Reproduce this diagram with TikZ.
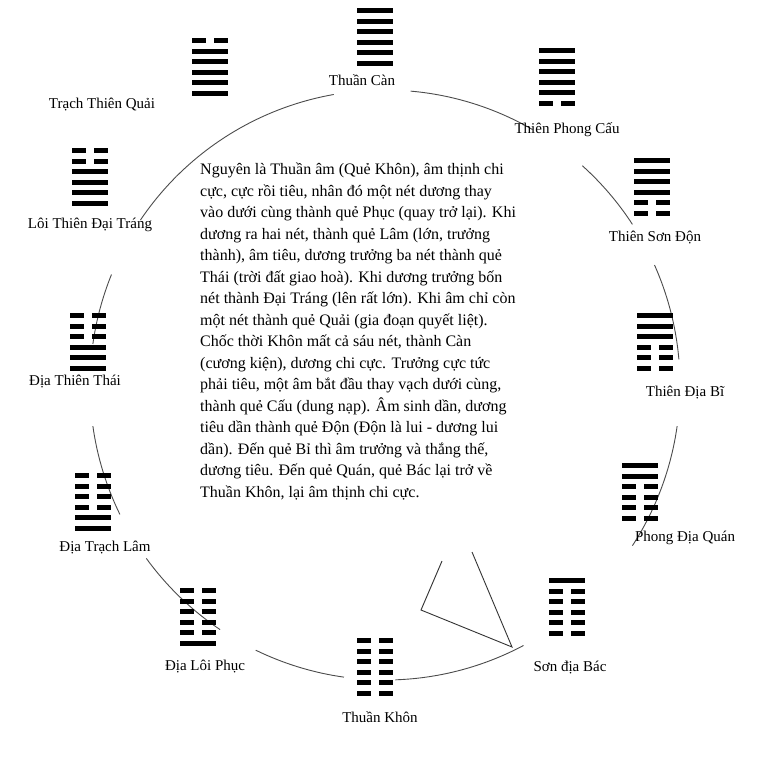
\documentclass[tikz,border=0pt]{standalone}
\usepackage{fontspec}
\setmainfont{Liberation Serif}
\usetikzlibrary{positioning}
\tikzset{yang/.pic={\fill (-18,-2.6) rectangle (18,2.6);},
  yin/.pic={\fill (-18,-2.6) rectangle (-4,2.6); \fill (4,-2.6) rectangle (18,2.6);}}
\tikzstyle{lbl}=[font=\fontsize{15}{17}\selectfont, inner sep=1pt]
% hexagram: center x, center y, lines from bottom to top
\newcommand{\hexa}[3]{\foreach \v [count=\i] in {#3}{%
  \ifnum\v=1 \pic at (#1,{#2+(3.5-\i)*10.5}) {yang};\else \pic at (#1,{#2+(3.5-\i)*10.5}) {yin};\fi}}
\begin{document}
\begin{tikzpicture}[x=1pt,y=-1pt]
\useasboundingbox (0,0) rectangle (773,772);
\fill[white] (0,0) rectangle (773,772);
% the cycle
\begin{scope}[shift={(385,385)},draw=black!70,line width=0.9pt]
\foreach \a/\b in {100/135,135/146,158/172,188/206,216/236,244/262,272/298,327/352,365/384,393/408,420/445}
  \draw (-\b:295) arc (-\b:-\a:295);
\end{scope}
% arrow head
\coordinate (h1) at (442,561); \coordinate (h2) at (421,610);
\coordinate (h3) at (512,647); \coordinate (h4) at (472,552);
\draw[line width=0.9pt, black!80] (h1) -- (h2) -- (h3) -- (h4);
% hexagrams
\hexa{375}{37}{1,1,1,1,1,1}
\hexa{557}{77}{0,1,1,1,1,1}
\hexa{652}{187}{0,0,1,1,1,1}
\hexa{655}{342}{0,0,0,1,1,1}
\hexa{640}{492}{0,0,0,0,1,1}
\hexa{567}{607}{0,0,0,0,0,1}
\hexa{375}{667}{0,0,0,0,0,0}
\hexa{198}{617}{1,0,0,0,0,0}
\hexa{93}{502}{1,1,0,0,0,0}
\hexa{88}{342}{1,1,1,0,0,0}
\hexa{90}{177}{1,1,1,1,0,0}
\hexa{210}{67}{1,1,1,1,1,0}
% names
\node[lbl] (can) at (362,80) {Thuần Càn};
\node[lbl] (cau) at (567,130) {Thiên Phong Cấu};
\node[lbl] (don) at (655,238) {Thiên Sơn Độn};
\node[lbl] (bi) at (685,393) {Thiên Địa Bĩ};
\node[lbl] (quan) at (685,538) {Phong Địa Quán};
\node[lbl] (bac) at (570,668) {Sơn địa Bác};
\node[lbl] (khon) at (380,717) {Thuần Khôn};
\node[lbl] (phuc) at (205,667) {Địa Lôi Phục};
\node[lbl] (lam) at (105,548) {Địa Trạch Lâm};
\node[lbl] (thai) at (75,382) {Địa Thiên Thái};
\node[lbl] (trang) at (90,225) {Lôi Thiên Đại Tráng};
\node[lbl] (quai) at (102,105) {Trạch Thiên Quải};
\node[anchor=north west, align=left, inner sep=0pt, font=\fontsize{16}{21.5}\selectfont] (txt) at (200,163) {%
Nguyên là Thuần âm (Quẻ Khôn), âm thịnh chi\\
cực, cực rồi tiêu, nhân đó một nét dương thay\\
vào dưới cùng thành quẻ Phục (quay trở lại). Khi\\
dương ra hai nét, thành quẻ Lâm (lớn, trưởng\\
thành), âm tiêu, dương trưởng ba nét thành quẻ\\
Thái (trời đất giao hoà). Khi dương trưởng bốn\\
nét thành Đại Tráng (lên rất lớn). Khi âm chỉ còn\\
một nét thành quẻ Quải (gia đoạn quyết liệt).\\
Chốc thời Khôn mất cả sáu nét, thành Càn\\
(cương kiện), dương chi cực. Trưởng cực tức\\
phải tiêu, một âm bắt đầu thay vạch dưới cùng,\\
thành quẻ Cấu (dung nạp). Âm sinh dần, dương\\
tiêu dần thành quẻ Độn (Độn là lui - dương lui\\
dần). Đến quẻ Bỉ thì âm trưởng và thắng thế,\\
dương tiêu. Đến quẻ Quán, quẻ Bác lại trở về\\
Thuần Khôn, lại âm thịnh chi cực.};
\end{tikzpicture}
\end{document}
